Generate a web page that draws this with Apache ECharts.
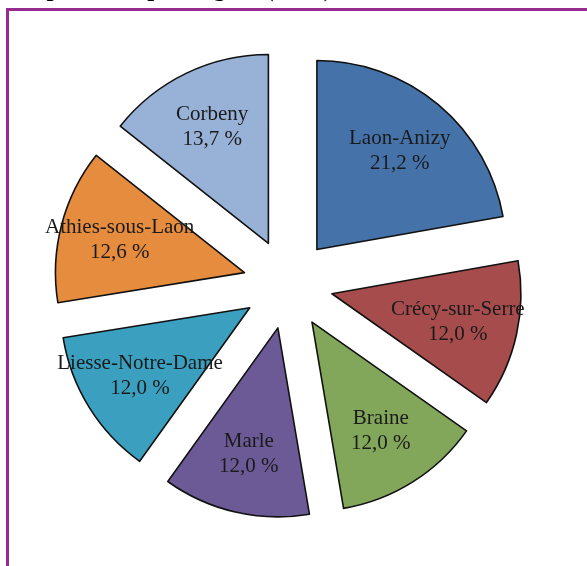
<!DOCTYPE html>
<html>
<head>
<meta charset="utf-8">
<script src="https://cdn.jsdelivr.net/npm/echarts@6/dist/echarts.min.js"></script>
<style>
  html, body { margin: 0; padding: 0; background: #ffffff; }
  #chart { width: 587px; height: 566px; }
</style>
</head>
<body>
<div id="chart"></div>
<script>
// Cantons and their shares (%)
const categories = ['Laon-Anizy', 'Crécy-sur-Serre', 'Braine', 'Marle', 'Liesse-Notre-Dame', 'Athies-sous-Laon', 'Corbeny'];
const shares = [21.2, 12.0, 12.0, 12.0, 12.0, 12.6, 13.7];
const sliceColors = ['#4472A9', '#A64C4C', '#82A65A', '#6C5A96', '#3BA0BF', '#E68C3E', '#98B1D6'];
const titleText = 'Répartition par région (2013)';

const pieCenter = [288, 284];
const pieRadius = 189;
const explode = 45;

const fmtPct = v => v.toFixed(1).replace('.', ',') + ' %';

const sliceData = categories.map((name, i) => ({
  name, value: shares[i], selected: true,
  itemStyle: { color: sliceColors[i] }
}));
const labelData = categories.map((name, i) => ({ name, value: shares[i], selected: true }));

const chart = echarts.init(document.getElementById('chart'), null, { renderer: 'canvas' });
chart.setOption({
  animation: false,
  backgroundColor: '#ffffff',
  graphic: [
    {
      type: 'rect',
      shape: { x: 7.5, y: 9.5, width: 700, height: 700 },
      style: { fill: 'none', stroke: '#952B91', lineWidth: 3 },
      silent: true
    },
    {
      // title sits above the frame, mostly outside the page
      type: 'text',
      x: 332, y: 2,
      style: {
        text: titleText,
        font: 'bold 25px "Liberation Serif"',
        fill: '#000000',
        align: 'right',
        verticalAlign: 'bottom'
      },
      silent: true
    }
  ],
  series: [
    {
      type: 'pie',
      center: pieCenter,
      radius: [0, pieRadius],
      startAngle: 90,
      clockwise: true,
      selectedMode: 'multiple',
      selectedOffset: explode,
      avoidLabelOverlap: false,
      silent: true,
      itemStyle: { borderColor: '#111111', borderWidth: 1.6 },
      label: { show: false },
      labelLine: { show: false },
      emphasis: { disabled: true },
      data: sliceData
    },
    {
      // transparent twin pie carrying the in-slice labels a bit further out
      type: 'pie',
      center: pieCenter,
      radius: [0, 252],
      startAngle: 90,
      clockwise: true,
      selectedMode: 'multiple',
      selectedOffset: explode,
      avoidLabelOverlap: false,
      silent: true,
      itemStyle: { color: 'rgba(0,0,0,0)', borderWidth: 0 },
      label: {
        show: true,
        position: 'inside',
        fontFamily: '"Liberation Serif", "Times New Roman", serif',
        fontSize: 21,
        lineHeight: 25,
        color: '#1a1a1a',
        formatter: p => p.name + '\n' + fmtPct(p.value)
      },
      labelLine: { show: false },
      emphasis: { disabled: true },
      data: labelData
    }
  ]
});
</script>
</body>
</html>
